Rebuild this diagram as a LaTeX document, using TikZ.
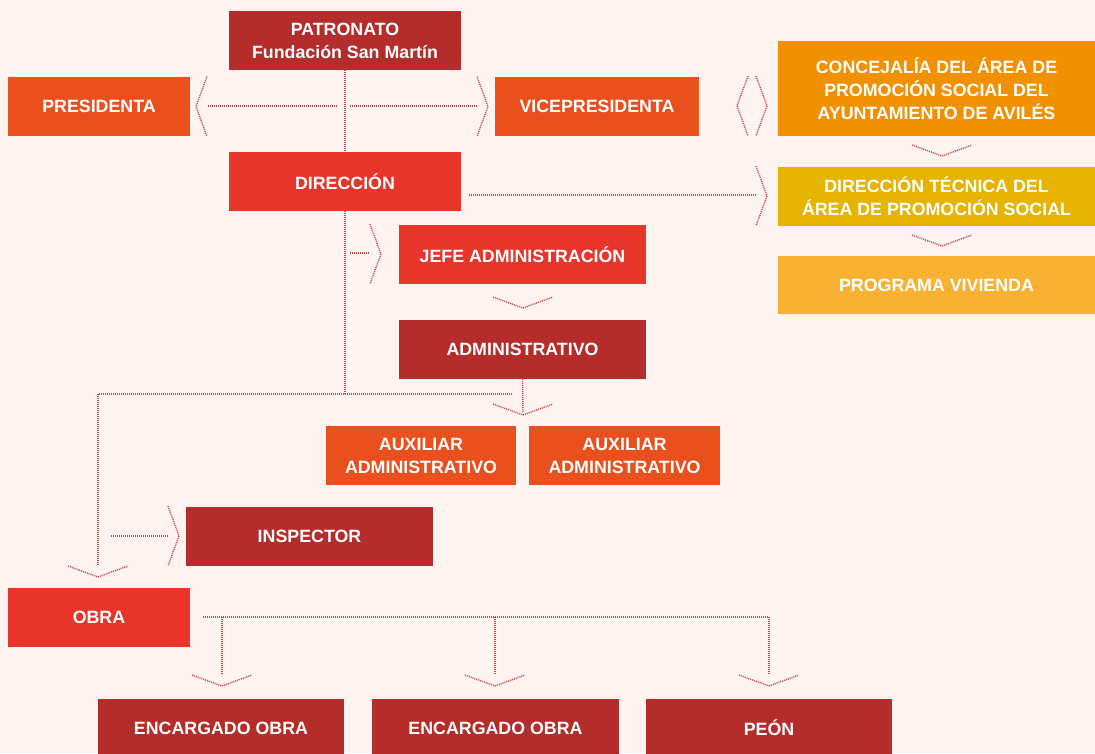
\documentclass[tikz,border=0pt]{standalone}
\usepackage{fontspec}
\setmainfont{Liberation Sans}
\definecolor{bg}{HTML}{FDF3F1}
\definecolor{dkred}{HTML}{B52D2A}
\definecolor{red}{HTML}{E8352B}
\definecolor{orred}{HTML}{E9501E}
\definecolor{orng}{HTML}{F29100}
\definecolor{mustard}{HTML}{E6B400}
\definecolor{lightor}{HTML}{F8B133}
\definecolor{linkc}{HTML}{C8424A}

\tikzset{
  chevr/.pic={\draw[link] (-11,-30) -- (0,0) -- (-11,30);},
  chevl/.pic={\draw[link] (11,-30) -- (0,0) -- (11,30);},
  chevd/.pic={\draw[link] (-30,-11) -- (0,0) -- (30,-11);}
}

\begin{document}
\begin{tikzpicture}[x=1pt,y=-1pt,
  box/.style={inner sep=0pt,align=center,text=white,minimum height=59pt,
    font=\bfseries\fontsize{17.8}{23}\selectfont},
  link/.style={draw=linkc,line width=1.4pt,dash pattern=on 1pt off 1pt}]
  \useasboundingbox (0,0) rectangle (1095,753);
  \fill[bg] (0,0) rectangle (1095,753);

  % ===== top: patronato, presidencia =====
  \node[box,fill=dkred,minimum width=232pt] (patronato) at (345,40.5) {PATRONATO\\Fundación San Martín};
  \node[box,fill=orred,minimum width=182pt] (presidenta) at (99,106.5) {PRESIDENTA};
  \node[box,fill=orred,minimum width=204pt] (vice) at (597,106.5) {VICEPRESIDENTA};
  \node[box,fill=red,minimum width=232pt] (direccion) at (345,181.5) {DIRECCIÓN};

  % ===== right column (ayuntamiento) =====
  \node[box,fill=orng,minimum width=317pt,minimum height=95pt] (concejalia) at (936.5,88.5) {CONCEJALÍA DEL ÁREA DE\\PROMOCIÓN SOCIAL DEL\\AYUNTAMIENTO DE AVILÉS};
  \node[box,fill=mustard,minimum width=317pt] (dtecnica) at (936.5,196.5) {DIRECCIÓN TÉCNICA DEL\\ÁREA DE PROMOCIÓN SOCIAL};
  \node[box,fill=lightor,minimum width=317pt,minimum height=58pt] (vivienda) at (936.5,285) {PROGRAMA VIVIENDA};

  % ===== administracion =====
  \node[box,fill=red,minimum width=247pt] (jefe) at (522.5,254.5) {JEFE ADMINISTRACIÓN};
  \node[box,fill=dkred,minimum width=247pt] (admin) at (522.5,349.5) {ADMINISTRATIVO};
  \node[box,fill=orred,minimum width=190pt] (aux1) at (421,455.5) {AUXILIAR\\ADMINISTRATIVO};
  \node[box,fill=orred,minimum width=191pt] (aux2) at (624.5,455.5) {AUXILIAR\\ADMINISTRATIVO};

  % ===== obra =====
  \node[box,fill=dkred,minimum width=247pt] (inspector) at (309.5,536.5) {INSPECTOR};
  \node[box,fill=red,minimum width=182pt] (obra) at (99,617.5) {OBRA};
  \node[box,fill=dkred,minimum width=246pt] (enc1) at (221,728.5) {ENCARGADO OBRA};
  \node[box,fill=dkred,minimum width=247pt] (enc2) at (495.5,728.5) {ENCARGADO OBRA};
  \node[box,fill=dkred,minimum width=246pt,text depth=0pt,text height=13pt] (peon) at (769,728.5) {PEÓN};

  % ===== connector points =====
  \coordinate (pl) at (337,106);  \coordinate (pr) at (208,106);
  \coordinate (vl) at (350,106);  \coordinate (vr) at (477,106);
  \coordinate (dt) at (756,195);  \coordinate (dd) at (469,195);
  \coordinate (jn) at (345,394);  \coordinate (jw) at (98,394);
  \coordinate (je) at (512,394);  \coordinate (ow) at (98,565);
  \coordinate (ja) at (350,253);  \coordinate (jb) at (369,253);
  \coordinate (ad) at (523,413);
  \coordinate (ia) at (111,536);  \coordinate (ib) at (168,536);
  \coordinate (oa) at (203,617);  \coordinate (oc) at (769,617);
  \coordinate (o1) at (222,617);  \coordinate (o2) at (495,617);

  % ===== lines =====
  \draw[link] (patronato) -- (direccion);
  \draw[link] (direccion.south) -- (jn);
  \draw[link] (pl) -- (pr);
  \draw[link] (vl) -- (vr);
  \draw[link] (dd) -- (dt);
  \draw[link] (ja) -- (jb);
  \draw[link] (je) -- (jw) -- (ow);
  \draw[link] (admin.south) -- (ad);
  \draw[link] (ia) -- (ib);
  \draw[link] (oa) -- (oc) -- ++(0,58);
  \draw[link] (o1) -- ++(0,58);
  \draw[link] (o2) -- ++(0,58);

  % ===== chevrons =====
  \pic at (196,106.5) {chevl};
  \pic at (488,106.5) {chevr};
  \pic at (737,106) {chevl};
  \pic at (767,106) {chevr};
  \pic at (767,196) {chevr};
  \pic at (942,156) {chevd};
  \pic at (942,246) {chevd};
  \pic at (381,254) {chevr};
  \pic at (523,308) {chevd};
  \pic at (523,415) {chevd};
  \pic at (98,577) {chevd};
  \pic at (179,536) {chevr};
  \pic at (222,686) {chevd};
  \pic at (495,686) {chevd};
  \pic at (769,686) {chevd};
\end{tikzpicture}
\end{document}
